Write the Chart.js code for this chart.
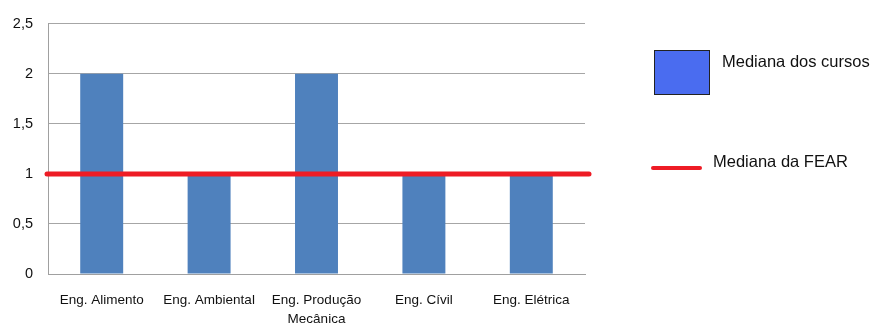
<!DOCTYPE html>
<html>
<head>
<meta charset="utf-8">
<script src="https://cdn.jsdelivr.net/npm/chart.js@4/dist/chart.umd.min.js"></script>
<style>
  html, body { margin: 0; padding: 0; background: #fff; }
  #wrap { position: relative; width: 871px; height: 325px; }
  #myChart { position: absolute; left: 0; top: 0; }
  .legend { position: absolute; font-family: "Liberation Sans", Arial, sans-serif; font-size: 16.5px; color: #111; line-height: 20px; }
  .swatch { position: absolute; left: 654px; top: 50px; width: 54px; height: 43px; background: #4a6cf0; border: 1px solid #222; }
  .redline { position: absolute; left: 651px; top: 166px; width: 51px; height: 4px; background: #ee1c25; border-radius: 2px; }
</style>
</head>
<body>
<div id="wrap">
  <canvas id="myChart" width="871" height="325"></canvas>
  <div class="swatch"></div>
  <div class="legend" style="left:722px; top:51px;">Mediana dos cursos</div>
  <div class="redline"></div>
  <div class="legend" style="left:713px; top:151px;">Mediana da FEAR</div>
</div>
<script>
var courses = ['Eng. Alimento', 'Eng. Ambiental', ['Eng. Produção', 'Mecânica'], 'Eng. Cívil', 'Eng. Elétrica'];
var courseMedians = [2, 1, 2, 1, 1];
var fearMedian = 1;
var yTickLabels = ['0', '0,5', '1', '1,5', '2', '2,5'];

// horizontal reference line for the FEAR median, drawn across the whole plot
var medianLine = {
  id: 'medianLine',
  afterDatasetsDraw: function (chart) {
    var ctx = chart.ctx;
    var area = chart.chartArea;
    var y = chart.scales.y.getPixelForValue(fearMedian);
    ctx.save();
    ctx.strokeStyle = '#ee1c25';
    ctx.lineWidth = 5;
    ctx.lineCap = 'round';
    ctx.beginPath();
    ctx.moveTo(area.left - 1, y);
    ctx.lineTo(area.right + 4, y);
    ctx.stroke();
    ctx.restore();
  }
};

var ctx = document.getElementById('myChart').getContext('2d');
new Chart(ctx, {
  type: 'bar',
  data: {
    labels: courses,
    datasets: [{
      label: 'Mediana dos cursos',
      data: courseMedians,
      backgroundColor: '#4f81bd',
      barPercentage: 0.4,
      categoryPercentage: 1
    }]
  },
  options: {
    responsive: false,
    animation: false,
    layout: { padding: { left: 0, top: 20, right: 286, bottom: 0 } },
    plugins: {
      legend: { display: false },
      tooltip: { enabled: false }
    },
    scales: {
      x: {
        grid: { display: false, drawTicks: false },
        border: { color: '#a0a0a0', width: 1 },
        ticks: {
          color: '#111',
          padding: 17,
          maxRotation: 0,
          autoSkip: false,
          font: { family: 'Liberation Sans', size: 13.5, lineHeight: 1.4 }
        },
        afterFit: function (scale) { scale.height = 51; }
      },
      y: {
        min: 0,
        max: 2.5,
        grid: { color: '#a6a6a6', drawTicks: false },
        border: { color: '#a0a0a0', width: 1 },
        ticks: {
          stepSize: 0.5,
          color: '#111',
          padding: 15,
          font: { family: 'Liberation Sans', size: 14.5 },
          callback: function (value, index) { return yTickLabels[index]; }
        },
        afterFit: function (scale) { scale.width = 48; }
      }
    }
  },
  plugins: [medianLine]
});
</script>
</body>
</html>
